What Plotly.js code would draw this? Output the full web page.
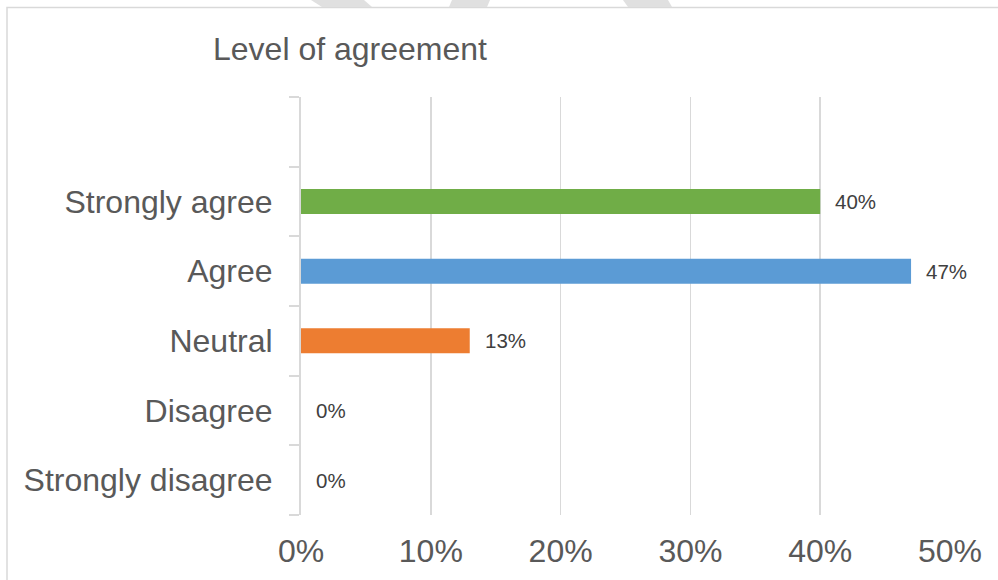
<!DOCTYPE html>
<html>
<head>
<meta charset="utf-8">
<script src="https://cdn.plot.ly/plotly-3.0.1.min.js"></script>
<style>
  html, body { margin: 0; padding: 0; background: #ffffff; }
  #chart { width: 998px; height: 580px; }
</style>
</head>
<body>
<div id="chart"></div>
<script>
// Data
const categories = ['Strongly disagree', 'Disagree', 'Neutral', 'Agree', 'Strongly agree'];
const values = [0, 0, 0.13, 0.47, 0.40];
const labels = ['0%', '0%', '13%', '47%', '40%'];
const barColors = ['#a5a5a5', '#ffc000', '#ed7d31', '#5b9bd5', '#70ad47'];
const xTickVals = [0, 0.1, 0.2, 0.3, 0.4, 0.5];
const chartTitle = 'Level of agreement';

const idx = categories.map((c, i) => i);

// layout geometry
const L = 301, R = 48, T = 97, B = 65;
const W = 998, H = 580;
const pw = W - L - R, ph = H - T - B;
const px = x => (x - L) / pw;
const py = y => 1 - (y - T) / ph;

const trace = {
  type: 'bar',
  orientation: 'h',
  x: values,
  y: idx,
  width: 0.36,
  marker: { color: barColors },
  hoverinfo: 'skip'
};

const annotations = values.map((v, i) => ({
  x: v, y: idx[i], xref: 'x', yref: 'y',
  text: labels[i], showarrow: false,
  xanchor: 'left', yanchor: 'middle', xshift: 13,
  font: { family: 'Liberation Sans, Arial, sans-serif', size: 20.5, color: '#404040' }
}));

const grey = '#e0e0e0';
const wm = [
  [[311, 0], [364, 0], [372, 7], [322, 7]],
  [[452, 0], [490, 0], [487, 7], [449, 7]],
  [[623, 0], [668, 0], [672, 7], [628, 7]]
];
const shapes = [
  {
    type: 'rect', xref: 'paper', yref: 'paper',
    x0: px(7), x1: px(1005), y0: py(590), y1: py(7.5),
    line: { color: '#d9d9d9', width: 1.5 }, fillcolor: 'rgba(0,0,0,0)', layer: 'below'
  }
].concat(wm.map(p => ({
  type: 'path', xref: 'paper', yref: 'paper',
  path: 'M' + p.map(q => px(q[0]) + ',' + py(q[1])).join('L') + 'Z',
  fillcolor: grey, line: { width: 0 }, layer: 'below'
})));

const layout = {
  width: W, height: H,
  margin: { l: L, r: R, t: T, b: B, pad: 0 },
  paper_bgcolor: '#ffffff', plot_bgcolor: '#ffffff',
  showlegend: false,
  font: { family: 'Liberation Sans, Arial, sans-serif', color: '#595959' },
  title: {
    text: chartTitle,
    font: { family: 'Liberation Sans, Arial, sans-serif', size: 32, color: '#595959' },
    xref: 'container', x: 213 / W, xanchor: 'left',
    yref: 'container', y: 1 - 49 / H, yanchor: 'middle'
  },
  xaxis: {
    range: [0, 0.5],
    tickvals: xTickVals,
    tickformat: '.0%',
    showgrid: true, gridcolor: '#d9d9d9', gridwidth: 1.7,
    zeroline: false, showline: false, ticks: '',
    tickfont: { size: 32, color: '#595959' },
    ticklabelstandoff: 14,
    fixedrange: true
  },
  yaxis: {
    range: [-0.5, 5.5],
    tickmode: 'array',
    tickvals: idx,
    ticktext: categories,
    ticks: '',
    showgrid: false, zeroline: false,
    showline: true, linecolor: '#d9d9d9', linewidth: 2,
    tickfont: { size: 32, color: '#595959' },
    ticklabelstandoff: 20,
    minor: { ticks: 'outside', tick0: 0.5, dtick: 1, ticklen: 10, tickcolor: '#d9d9d9', tickwidth: 2, showgrid: false },
    fixedrange: true
  },
  annotations: annotations,
  shapes: shapes,
  bargap: 0.64
};

Plotly.newPlot('chart', [trace], layout, { displayModeBar: false, staticPlot: true });
</script>
</body>
</html>
